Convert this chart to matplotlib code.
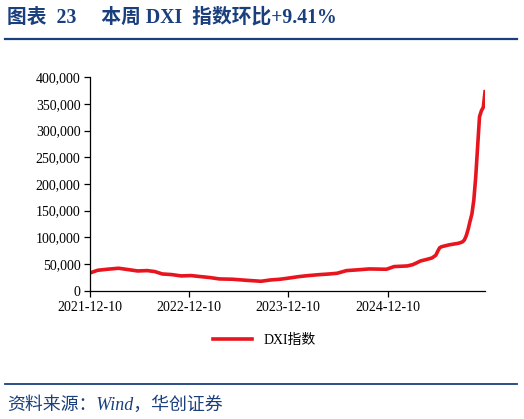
import pandas as pd
import matplotlib.pyplot as plt
import matplotlib.dates as mdates
from matplotlib.lines import Line2D
from matplotlib.ticker import FuncFormatter

# 数据
dates = [
    "2021-12-10", "2022-01-07", "2022-02-11", "2022-03-25", "2022-04-29",
    "2022-06-03", "2022-07-08", "2022-08-05", "2022-09-02", "2022-10-07",
    "2022-11-11", "2022-12-16", "2023-01-20", "2023-02-24", "2023-03-31",
    "2023-05-19", "2023-07-07", "2023-09-01", "2023-10-06", "2023-11-10",
    "2023-12-15", "2024-01-19", "2024-02-23", "2024-04-05", "2024-05-10",
    "2024-06-07", "2024-07-12", "2024-08-16", "2024-10-04", "2024-12-06",
    "2025-01-03", "2025-02-21", "2025-03-14", "2025-04-11", "2025-05-02",
    "2025-05-23", "2025-06-06", "2025-06-13", "2025-06-20", "2025-06-27",
    "2025-07-25", "2025-08-29", "2025-09-12", "2025-09-19", "2025-09-26",
    "2025-10-03", "2025-10-10", "2025-10-17", "2025-10-24", "2025-10-31",
    "2025-11-07", "2025-11-14", "2025-11-21", "2025-11-28", "2025-12-05",
]
dxi = [
    33500, 38400, 40300, 42200, 39700,
    37100, 37800, 36000, 31500, 30300,
    27800, 28500, 26600, 24800, 22200,
    21600, 19700, 17800, 20300, 21600,
    24000, 26600, 28500, 30300, 31500,
    32800, 37800, 39000, 40900, 40300,
    45300, 46500, 49100, 55900, 58500,
    61500, 66600, 74000, 80500, 82500,
    86000, 89000, 91500, 95000, 103000,
    115000, 130000, 144000, 170000, 213000,
    270000, 326000, 337000, 343700, 376000,
]
xticks = ["2021-12-10", "2022-12-10", "2023-12-10", "2024-12-10"]

df = pd.DataFrame({"date": pd.to_datetime(dates), "dxi": dxi})

navy = "#1a3f7d"
red = "#e8141e"
serif_cjk = ["Liberation Serif", "Noto Sans CJK SC"]

fig = plt.figure(figsize=(5.24, 4.19), dpi=100)
ax = fig.add_axes([0.172, 0.306, 0.754, 0.510])

ax.plot(df["date"], df["dxi"], color=red, lw=2.6, solid_capstyle="butt")

ax.set_ylim(0, 400000)
ax.set_yticks(range(0, 400001, 50000))
ax.yaxis.set_major_formatter(FuncFormatter(lambda v, p: f"{int(v):,}"))
ax.set_xlim(df["date"].iloc[0], df["date"].iloc[-1])
ax.set_xticks(pd.to_datetime(xticks))
ax.xaxis.set_major_formatter(mdates.DateFormatter("%Y-%m-%d"))

for s in ["top", "right"]:
    ax.spines[s].set_visible(False)
for s in ["left", "bottom"]:
    ax.spines[s].set_linewidth(0.9)
ax.tick_params(axis="both", direction="out", length=4, width=0.9,
               labelsize=10, pad=3)
for lab in ax.get_xticklabels() + ax.get_yticklabels():
    lab.set_family(serif_cjk)

# 图例
handle = Line2D([], [], color=red, lw=2.6)
leg = fig.legend([handle], ["DXI指数"], loc="center",
                 bbox_to_anchor=(0.505, 1 - 340 / 419), frameon=False,
                 handlelength=2.8, prop={"family": serif_cjk, "size": 10})

# 标题与来源
fig.text(0.013, 1 - 17 / 419, "图表  23     本周 DXI  指数环比+9.41%",
         color=navy, fontsize=14.2, fontweight="bold", family=serif_cjk,
         va="center", ha="left")
fig.add_artist(Line2D([0.01, 0.987], [1 - 39 / 419] * 2, color=navy, lw=1.6))
fig.add_artist(Line2D([0.01, 0.987], [1 - 384 / 419] * 2, color=navy, lw=1.3))
fig.text(0.013, 1 - 405 / 419, "资料来源：Wind，华创证券", color=navy,
         fontsize=12.9, style="italic", family=serif_cjk, va="center", ha="left")

fig.savefig("out.png", dpi=100)
